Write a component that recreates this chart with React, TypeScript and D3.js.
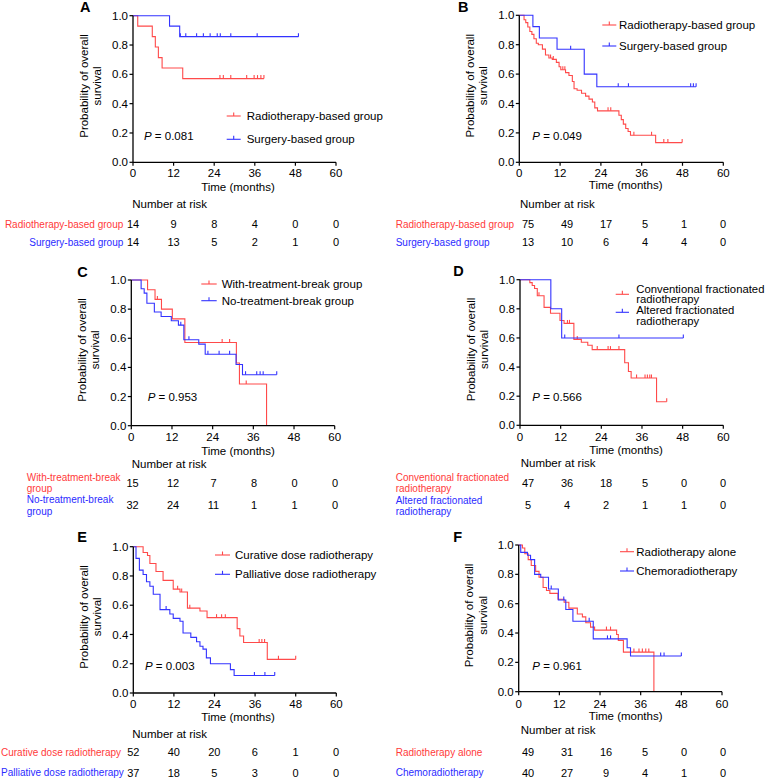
import React from 'react';
import * as d3 from 'd3';

const RED = '#FF4A4A';
const BLUE = '#3333FF';
const RED_TXT = '#FF3A3A';
const BLUE_TXT = '#2B2BFF';
const FONT = '"Liberation Sans", Arial, Helvetica, sans-serif';

const xTicks = [0, 12, 24, 36, 48, 60];
const yTicks = [0, 0.2, 0.4, 0.6, 0.8, 1.0];

// ---------- Panel A ----------
const aRadT = [1.4, 5.7, 6.6, 7.5, 8.6, 14.7];
const aRadS = [0.929, 0.857, 0.786, 0.714, 0.643, 0.571];
const aRadC = [25.7, 26.7, 28.9, 33.6, 35.8, 36.8, 37.8, 38.7];
const aSurT = [10.8, 13.8];
const aSurS = [0.929, 0.857];
const aSurC = [14.0, 15.6, 18.8, 20.8, 22.8, 24.9, 25.8, 28.9, 36.7, 48.9];
const aRiskRad = [14, 9, 8, 4, 0, 0];
const aRiskSur = [14, 13, 5, 2, 1, 0];

// ---------- Panel B ----------
const bRadT = [1.4, 1.9, 2.5, 3.1, 3.7, 4.3, 5.0, 5.6, 6.8, 7.7, 8.7, 9.7, 10.9, 11.7, 12.2, 13.6, 14.6, 15.6, 16.1, 17.0, 18.3, 19.5, 20.5, 21.5, 22.2, 23.0, 29.3, 30.0, 30.6, 31.3, 32.0, 32.7, 40.1];
const bRadS = [0.97, 0.95, 0.92, 0.89, 0.87, 0.84, 0.81, 0.8, 0.77, 0.73, 0.71, 0.7, 0.68, 0.65, 0.63, 0.61, 0.59, 0.55, 0.5, 0.49, 0.47, 0.45, 0.43, 0.41, 0.37, 0.35, 0.32, 0.29, 0.26, 0.23, 0.21, 0.184, 0.134];
const bRadC = [9.2, 10.0, 12.8, 13.4, 26.1, 26.9, 33.7, 38.9, 42.5, 43.7, 47.9];
const bSurT = [4.0, 5.9, 11.1, 19.1, 22.8];
const bSurS = [0.923, 0.846, 0.769, 0.6, 0.514];
const bSurC = [15.1, 29.1, 32.1, 50.4, 51.2, 52.0];
const bRiskRad = [75, 49, 17, 5, 1, 0];
const bRiskSur = [13, 10, 6, 4, 4, 0];

// ---------- Panel C ----------
const cWithT = [4.8, 7.0, 8.9, 12.1, 15.8, 31.0, 31.9, 39.9];
const cWithS = [0.933, 0.867, 0.8, 0.733, 0.571, 0.43, 0.286, 0];
const cWithC = [7.7, 26.8, 29.0, 33.9];
const cNoT = [2.9, 3.8, 4.6, 6.8, 8.8, 11.8, 13.9, 15.5, 19.9, 21.8, 30.9, 32.8];
const cNoS = [0.94, 0.91, 0.84, 0.78, 0.75, 0.72, 0.69, 0.59, 0.56, 0.49, 0.42, 0.35];
const cNoC = [14.6, 17.0, 22.6, 25.9, 29.0, 33.7, 37.0, 38.0, 38.9, 42.9];
const cRiskWith = [15, 12, 7, 8, 0, 0];
const cRiskNo = [32, 24, 11, 1, 1, 0];

// ---------- Panel D ----------
const dConvT = [2.9, 3.6, 4.3, 5.1, 7.1, 9.0, 11.8, 13.0, 15.9, 18.1, 20.0, 21.3, 30.9, 32.0, 32.8, 40.3];
const dConvS = [0.98, 0.96, 0.94, 0.89, 0.81, 0.77, 0.72, 0.7, 0.59, 0.57, 0.55, 0.52, 0.43, 0.37, 0.325, 0.162];
const dConvC = [5.6, 14.0, 14.6, 16.9, 22.8, 26.0, 26.7, 29.2, 34.4, 36.9, 37.6, 38.3, 38.8, 43.3];
const dAltT = [9.1, 12.3];
const dAltS = [0.8, 0.6];
const dAltC = [13.2, 29.2, 48.2];
const dRiskConv = [47, 36, 18, 5, 0, 0];
const dRiskAlt = [5, 4, 2, 1, 1, 0];

// ---------- Panel E ----------
const eCurT = [2.9, 4.2, 4.9, 6.7, 8.8, 11.8, 13.8, 16.0, 19.7, 21.8, 30.7, 31.5, 32.6, 39.6];
const eCurS = [0.96, 0.94, 0.885, 0.83, 0.77, 0.71, 0.69, 0.58, 0.56, 0.515, 0.44, 0.39, 0.345, 0.23];
const eCurC = [13.1, 14.3, 16.7, 24.6, 26.1, 27.2, 37.2, 38.0, 38.8, 42.9, 48.0];
const ePalT = [0.8, 1.8, 2.9, 3.9, 4.9, 5.9, 7.9, 10.8, 11.8, 13.8, 14.7, 17.0, 18.7, 19.7, 20.6, 21.6, 22.8, 28.7, 29.8];
const ePalS = [0.92, 0.84, 0.81, 0.76, 0.73, 0.675, 0.57, 0.54, 0.51, 0.49, 0.41, 0.38, 0.35, 0.32, 0.3, 0.24, 0.2, 0.16, 0.12];
const ePalC = [9.7, 35.8, 38.9, 41.8];
const eRiskCur = [52, 40, 20, 6, 1, 0];
const eRiskPal = [37, 18, 5, 3, 0, 0];

// ---------- Panel F ----------
const fRadT = [1.1, 1.8, 2.8, 3.7, 5.0, 6.0, 7.2, 8.2, 9.2, 11.6, 13.4, 14.8, 17.3, 18.8, 19.8, 21.2, 22.4, 28.9, 29.4, 30.9, 39.9];
const fRadS = [0.98, 0.94, 0.9, 0.86, 0.82, 0.78, 0.71, 0.69, 0.67, 0.63, 0.61, 0.57, 0.53, 0.51, 0.47, 0.44, 0.42, 0.39, 0.35, 0.27, 0];
const fRadC = [25.9, 27.1, 34.0, 35.5, 36.5, 37.5, 38.4];
const fChemT = [0.6, 2.6, 3.5, 4.7, 6.5, 8.8, 11.7, 13.9, 16.0, 22.0, 32.0, 33.0];
const fChemS = [0.95, 0.93, 0.9, 0.8, 0.78, 0.7, 0.625, 0.56, 0.48, 0.36, 0.3, 0.243];
const fChemC = [9.6, 13.3, 20.8, 26.2, 27.1, 41.9, 42.9, 48.0];
const fRiskRad = [49, 31, 16, 5, 0, 0];
const fRiskChem = [40, 27, 9, 4, 1, 0];

type Series = { t: number[]; s: number[]; c: number[]; color: string };
type Row = { lines: string[]; lineYs: number[]; numY: number; color: string; values: number[] };
type Legend = { text: string[]; textYs: number[]; lineY: number; color: string };
type PanelCfg = {
  letter: string; letterX: number; letterY: number;
  x0: number; x1: number; yTop: number; yBot: number;
  series: Series[];
  legX1: number; legX2: number; legTextX: number; legends: Legend[]; legFs: number;
  pX: number; pY: number; pText: string;
  tickY: number; timeX: number; timeY: number; narX: number; narY: number;
  labelAnchor: 'start' | 'end'; labelX: number; rows: Row[];
  tabX0: number; tabX1: number;
};

const panels: PanelCfg[] = [
  {
    letter: 'A', letterX: 80, letterY: 7, x0: 133, x1: 336, yTop: 15.7, yBot: 162.3,
    series: [
      { t: aRadT, s: aRadS, c: aRadC, color: RED },
      { t: aSurT, s: aSurS, c: aSurC, color: BLUE },
    ],
    legX1: 226.7, legX2: 240.7, legTextX: 246.7, legFs: 11.5,
    legends: [
      { text: ['Radiotherapy-based group'], textYs: [116], lineY: 116, color: RED },
      { text: ['Surgery-based group'], textYs: [139.3], lineY: 139.3, color: BLUE },
    ],
    pX: 144, pY: 136, pText: ' = 0.081',
    tickY: 173.3, timeX: 238, timeY: 186.7, narX: 132.3, narY: 204.3,
    labelAnchor: 'end', labelX: 123.3,
    rows: [
      { lines: ['Radiotherapy-based group'], lineYs: [224], numY: 224, color: RED_TXT, values: aRiskRad },
      { lines: ['Surgery-based group'], lineYs: [242], numY: 242, color: BLUE_TXT, values: aRiskSur },
    ],
    tabX0: 133, tabX1: 336,
  },
  {
    letter: 'B', letterX: 458, letterY: 7, x0: 519.3, x1: 723.3, yTop: 15.3, yBot: 162.3,
    series: [
      { t: bRadT, s: bRadS, c: bRadC, color: RED },
      { t: bSurT, s: bSurS, c: bSurC, color: BLUE },
    ],
    legX1: 602.3, legX2: 616.3, legTextX: 619, legFs: 11.5,
    legends: [
      { text: ['Radiotherapy-based group'], textYs: [25], lineY: 25, color: RED },
      { text: ['Surgery-based group'], textYs: [46], lineY: 46, color: BLUE },
    ],
    pX: 532.3, pY: 136, pText: ' = 0.049',
    tickY: 173.3, timeX: 625.7, timeY: 185, narX: 520, narY: 204,
    labelAnchor: 'start', labelX: 395.7,
    rows: [
      { lines: ['Radiotherapy-based group'], lineYs: [224.3], numY: 224.3, color: RED_TXT, values: bRiskRad },
      { lines: ['Surgery-based group'], lineYs: [242.3], numY: 242.3, color: BLUE_TXT, values: bRiskSur },
    ],
    tabX0: 528, tabX1: 723,
  },
  {
    letter: 'C', letterX: 77.3, letterY: 271.7, x0: 131.3, x1: 334.7, yTop: 280, yBot: 425.7,
    series: [
      { t: cWithT, s: cWithS, c: cWithC, color: RED },
      { t: cNoT, s: cNoS, c: cNoC, color: BLUE },
    ],
    legX1: 201.3, legX2: 216.7, legTextX: 221.7, legFs: 11.5,
    legends: [
      { text: ['With-treatment-break group'], textYs: [284], lineY: 284, color: RED },
      { text: ['No-treatment-break group'], textYs: [300.7], lineY: 300.7, color: BLUE },
    ],
    pX: 147.7, pY: 396.7, pText: ' = 0.953',
    tickY: 436.7, timeX: 238, timeY: 450.7, narX: 131.7, narY: 464,
    labelAnchor: 'start', labelX: 26.7,
    rows: [
      { lines: ['With-treatment-break', 'group'], lineYs: [477.2, 488.6], numY: 482.7, color: RED_TXT, values: cRiskWith },
      { lines: ['No-treatment-break', 'group'], lineYs: [499.6, 511], numY: 505, color: BLUE_TXT, values: cRiskNo },
    ],
    tabX0: 132.5, tabX1: 335,
  },
  {
    letter: 'D', letterX: 453.3, letterY: 271, x0: 520, x1: 723.3, yTop: 279.7, yBot: 425.3,
    series: [
      { t: dConvT, s: dConvS, c: dConvC, color: RED },
      { t: dAltT, s: dAltS, c: dAltC, color: BLUE },
    ],
    legX1: 615.7, legX2: 629, legTextX: 636.3, legFs: 11.3,
    legends: [
      { text: ['Conventional fractionated', 'radiotherapy'], textYs: [288.6, 299.4], lineY: 294.3, color: RED },
      { text: ['Altered fractionated', 'radiotherapy'], textYs: [310.4, 321.2], lineY: 312.3, color: BLUE },
    ],
    pX: 532.3, pY: 396.7, pText: ' = 0.566',
    tickY: 436.7, timeX: 626, timeY: 450, narX: 520.7, narY: 463.3,
    labelAnchor: 'start', labelX: 395.7,
    rows: [
      { lines: ['Conventional fractionated', 'radiotherapy'], lineYs: [477.2, 488], numY: 482.7, color: RED_TXT, values: dRiskConv },
      { lines: ['Altered fractionated', 'radiotherapy'], lineYs: [500.2, 511], numY: 505, color: BLUE_TXT, values: dRiskAlt },
    ],
    tabX0: 528, tabX1: 723,
  },
  {
    letter: 'E', letterX: 77.3, letterY: 536.7, x0: 133.3, x1: 336.3, yTop: 546.7, yBot: 693,
    series: [
      { t: eCurT, s: eCurS, c: eCurC, color: RED },
      { t: ePalT, s: ePalS, c: ePalC, color: BLUE },
    ],
    legX1: 215, legX2: 230, legTextX: 235, legFs: 11.5,
    legends: [
      { text: ['Curative dose radiotherapy'], textYs: [555], lineY: 555, color: RED },
      { text: ['Palliative dose radiotherapy'], textYs: [574.3], lineY: 574.3, color: BLUE },
    ],
    pX: 145, pY: 665.7, pText: ' = 0.003',
    tickY: 704, timeX: 238, timeY: 717.3, narX: 132.3, narY: 734.3,
    labelAnchor: 'start', labelX: 1,
    rows: [
      { lines: ['Curative dose radiotherapy'], lineYs: [752.3], numY: 752.3, color: RED_TXT, values: eRiskCur },
      { lines: ['Palliative dose radiotherapy'], lineYs: [772.7], numY: 772.7, color: BLUE_TXT, values: eRiskPal },
    ],
    tabX0: 133.3, tabX1: 336,
  },
  {
    letter: 'F', letterX: 453.3, letterY: 536.7, x0: 518.7, x1: 722, yTop: 545, yBot: 691.7,
    series: [
      { t: fRadT, s: fRadS, c: fRadC, color: RED },
      { t: fChemT, s: fChemS, c: fChemC, color: BLUE },
    ],
    legX1: 620, legX2: 634, legTextX: 636.3, legFs: 11.5,
    legends: [
      { text: ['Radiotherapy alone'], textYs: [551.7], lineY: 551.7, color: RED },
      { text: ['Chemoradiotherapy'], textYs: [571], lineY: 571, color: BLUE },
    ],
    pX: 532.3, pY: 665.7, pText: ' = 0.961',
    tickY: 704, timeX: 625.7, timeY: 716, narX: 520.7, narY: 730,
    labelAnchor: 'start', labelX: 395.7,
    rows: [
      { lines: ['Radiotherapy alone'], lineYs: [752.3], numY: 752.3, color: RED_TXT, values: fRiskRad },
      { lines: ['Chemoradiotherapy'], lineYs: [772.7], numY: 772.7, color: BLUE_TXT, values: fRiskChem },
    ],
    tabX0: 528, tabX1: 723,
  },
];

function survAt(sr: Series, t: number) {
  let v = 1;
  for (let i = 0; i < sr.t.length; i++) if (sr.t[i] <= t) v = sr.s[i];
  return v;
}

function Panel({ p }: { p: PanelCfg }) {
  const x = d3.scaleLinear().domain([0, 60]).range([p.x0, p.x1]);
  const y = d3.scaleLinear().domain([0, 1]).range([p.yBot, p.yTop]);
  const tx = d3.scaleLinear().domain([0, 60]).range([p.tabX0, p.tabX1]);
  const line = d3.line<[number, number]>().x(d => x(d[0])).y(d => y(d[1])).curve(d3.curveStepAfter);
  const fs = 11.5;
  return (
    <g fontFamily={FONT}>
      <text x={p.letterX} y={p.letterY} dy="0.35em" fontSize={14.5} fontWeight="bold">{p.letter}</text>
      {p.series.map((sr, i) => {
        const pts: [number, number][] = [[0, 1]];
        sr.t.forEach((t, k) => pts.push([t, sr.s[k]]));
        const end = Math.max(sr.t[sr.t.length - 1] || 0, sr.c.length ? sr.c[sr.c.length - 1] : 0);
        pts.push([end, sr.s[sr.s.length - 1]]);
        return (
          <g key={i}>
            <path d={line(pts) || ''} fill="none" stroke={sr.color} strokeWidth={1.1} />
            {sr.c.map((c, k) => {
              const yy = y(survAt(sr, c));
              return <line key={k} x1={x(c)} x2={x(c)} y1={yy} y2={yy - 3.5} stroke={sr.color} strokeWidth={1.1} />;
            })}
          </g>
        );
      })}
      <line x1={p.x0} x2={p.x0} y1={p.yTop} y2={p.yBot} stroke="#000" strokeWidth={1.3} />
      <line x1={p.x0} x2={p.x1} y1={p.yBot} y2={p.yBot} stroke="#000" strokeWidth={1.3} />
      {yTicks.map(v => (
        <g key={v}>
          <line x1={p.x0 - 3.5} x2={p.x0} y1={y(v)} y2={y(v)} stroke="#000" strokeWidth={1.2} />
          <text x={p.x0 - 5} y={y(v)} dy="0.35em" fontSize={fs} textAnchor="end">{v.toFixed(1)}</text>
        </g>
      ))}
      {xTicks.map(v => (
        <g key={v}>
          <line x1={x(v)} x2={x(v)} y1={p.yBot} y2={p.yBot + 3.5} stroke="#000" strokeWidth={1.2} />
          <text x={x(v)} y={p.tickY} dy="0.35em" fontSize={fs} textAnchor="middle">{v}</text>
        </g>
      ))}
      <text transform={`translate(${p.x0 - 49.5},${(p.yTop + p.yBot) / 2 - 3}) rotate(-90)`} dy="0.35em" fontSize={fs} textAnchor="middle">Probability of overall</text>
      <text transform={`translate(${p.x0 - 36},${(p.yTop + p.yBot) / 2 - 3}) rotate(-90)`} dy="0.35em" fontSize={fs} textAnchor="middle">survival</text>
      <text x={p.timeX} y={p.timeY} dy="0.35em" fontSize={fs} textAnchor="middle">Time (months)</text>
      <text x={p.pX} y={p.pY} dy="0.35em" fontSize={fs}><tspan fontStyle="italic">P</tspan>{p.pText}</text>
      {p.legends.map((lg, i) => (
        <g key={i}>
          <line x1={p.legX1} x2={p.legX2} y1={lg.lineY} y2={lg.lineY} stroke={lg.color} strokeWidth={1.1} />
          <line x1={(p.legX1 + p.legX2) / 2} x2={(p.legX1 + p.legX2) / 2} y1={lg.lineY} y2={lg.lineY - 3.5} stroke={lg.color} strokeWidth={1.1} />
          {lg.text.map((t, k) => (
            <text key={k} x={p.legTextX} y={lg.textYs[k]} dy="0.35em" fontSize={p.legFs}>{t}</text>
          ))}
        </g>
      ))}
      <text x={p.narX} y={p.narY} dy="0.35em" fontSize={fs}>Number at risk</text>
      {p.rows.map((r, i) => (
        <g key={i}>
          {r.lines.map((l, k) => (
            <text key={k} x={p.labelX} y={r.lineYs[k]} dy="0.35em" fontSize={10} fill={r.color} textAnchor={p.labelAnchor}>{l}</text>
          ))}
          {r.values.map((v, k) => (
            <text key={k} x={tx(xTicks[k])} y={r.numY} dy="0.35em" fontSize={11} textAnchor="middle">{v}</text>
          ))}
        </g>
      ))}
    </g>
  );
}

export default function App() {
  return (
    <svg width={768} height={780} style={{ position: 'absolute', left: 0, top: 0, background: '#fff' }}>
      <rect width={768} height={780} fill="#fff" />
      {panels.map(p => <Panel key={p.letter} p={p} />)}
    </svg>
  );
}
